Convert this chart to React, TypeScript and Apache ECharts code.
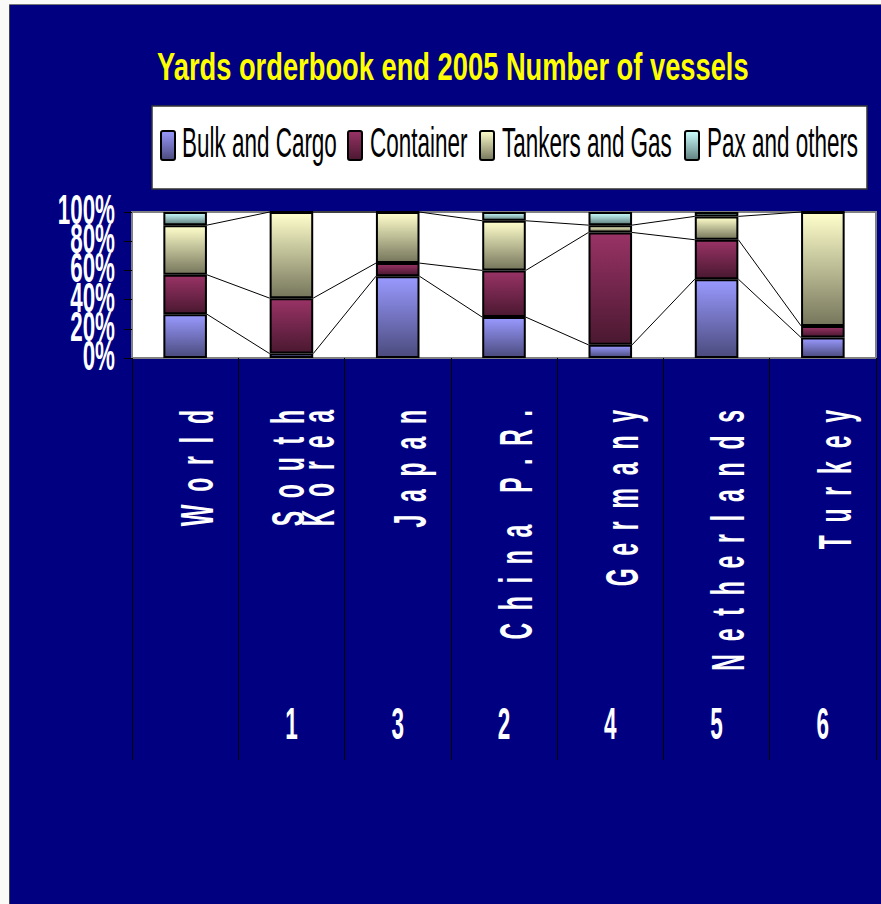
import React, { useEffect, useRef } from "react";
import * as echarts from "echarts";

const categories = ["World", "South Korea", "Japan", "China P.R.", "Germany", "Netherlands", "Turkey"];
const ranks = ["", "1", "3", "2", "4", "5", "6"];
const seriesNames = ["Bulk and Cargo", "Container", "Tankers and Gas", "Pax and others"];
const bulkAndCargo = [30, 3, 56, 28, 9, 54, 14];
const container = [27, 38, 9, 32, 77, 27, 8];
const tankersAndGas = [34, 59, 35, 34, 5, 16, 78];
const paxAndOthers = [9, 0, 0, 6, 9, 3, 0];
const yTicks = [0, 20, 40, 60, 80, 100];
const yTickLabels = ["0%", "20%", "40%", "60%", "80%", "100%"];
const titleText = "Yards orderbook end 2005 Number of vessels";

const gradientColors = [
  ["#9999FF", "#4B4B7E"],
  ["#993366", "#4A1830"],
  ["#FFFFCC", "#76765C"],
  ["#CCFFFF", "#628080"],
];

const FONT = '"Liberation Sans", Arial, Helvetica, sans-serif';
const BAR_RATIO = 0.41;

const grad = (c: string[]) =>
  new echarts.graphic.LinearGradient(0, 0, 0, 1, [
    { offset: 0, color: c[0] },
    { offset: 1, color: c[1] },
  ]);

const spaced = (s: string) => s.split("").join("  ");
const labelText = (name: string) => {
  const words = name.split(" ");
  if (words.length > 1 && words.every((w) => /^[A-Za-z]+$/.test(w))) {
    return words.map(spaced).join("\n");
  }
  return spaced(name);
};

export default function App() {
  const ref = useRef<HTMLDivElement>(null);

  useEffect(() => {
    const el = ref.current;
    if (!el) return;
    const chart = echarts.init(el, null, { renderer: "svg" });

    const values = [bulkAndCargo, container, tankersAndGas, paxAndOthers];
    const cumulative: number[][] = [];
    let running = categories.map(() => 0);
    for (let k = 0; k < 3; k++) {
      running = running.map((r, i) => r + values[k][i]);
      cumulative.push(running.slice());
    }
    const seriesLineData: number[][] = [];
    for (let k = 0; k < cumulative.length; k++) {
      for (let i = 0; i < categories.length - 1; i++) {
        seriesLineData.push([i, cumulative[k][i], cumulative[k][i + 1]]);
      }
    }

    const barSeries = values.map((v, k) => ({
      name: seriesNames[k],
      type: "bar",
      stack: "total",
      barWidth: `${BAR_RATIO * 100}%`,
      data: v,
      itemStyle: {
        color: grad(gradientColors[k]),
        borderColor: "#000",
        borderWidth: 2,
      },
      emphasis: { disabled: true },
    }));

    const legendMarkerX = [161, 348, 480, 685];
    const legendTextX = [182, 370, 502, 707];
    const legendElements: any[] = [
      {
        type: "rect",
        shape: { x: 152, y: 106, width: 715, height: 83 },
        style: { fill: "#FFFFFF", stroke: "#333333", lineWidth: 1.5 },
      },
    ];
    seriesNames.forEach((n, k) => {
      legendElements.push({
        type: "rect",
        shape: { x: legendMarkerX[k], y: 131, width: 14, height: 29, r: 2 },
        style: { fill: grad(gradientColors[k]), stroke: "#000", lineWidth: 2 },
      });
      legendElements.push({
        type: "text",
        x: legendTextX[k],
        y: 143,
        scaleX: 0.535,
        style: {
          text: n,
          fill: "#000",
          fontSize: 42,
          fontFamily: FONT,
          align: "left",
          verticalAlign: "middle",
        },
      });
    });

    const option: any = {
      animation: false,
      backgroundColor: "#000080",
      grid: {
        left: 132,
        right: 5,
        top: 212,
        bottom: 546,
        show: true,
        backgroundColor: "#FFFFFF",
        borderColor: "#808080",
        borderWidth: 2,
      },
      xAxis: {
        type: "category",
        data: categories,
        axisLine: { show: true, lineStyle: { color: "#808080", width: 2 } },
        axisTick: { show: true, interval: 0, length: 402, lineStyle: { color: "#000", width: 1 } },
        axisLabel: { show: false },
        splitLine: { show: false },
      },
      yAxis: {
        type: "value",
        min: 0,
        max: 100,
        interval: 20,
        axisLine: { show: true, lineStyle: { color: "#808080", width: 2 } },
        axisTick: { show: true, length: 8, lineStyle: { color: "#000", width: 1 } },
        axisLabel: { show: false },
        splitLine: { show: false },
      },
      graphic: [
        { type: "rect", shape: { x: 0, y: 0, width: 10, height: 904 }, style: { fill: "#FAFAF8" }, silent: true },
        { type: "rect", shape: { x: 0, y: 0, width: 881, height: 5 }, style: { fill: "#FAFAF8" }, silent: true },
        { type: "line", shape: { x1: 9.5, y1: 4.5, x2: 9.5, y2: 904 }, style: { stroke: "#444", lineWidth: 1 }, silent: true },
        { type: "line", shape: { x1: 9.5, y1: 4.5, x2: 881, y2: 4.5 }, style: { stroke: "#777", lineWidth: 1 }, silent: true },
        {
          type: "text",
          x: 157,
          y: 67,
          scaleX: 0.7,
          style: {
            text: titleText,
            fill: "#FFFF00",
            fontSize: 39,
            fontWeight: "bold",
            fontFamily: FONT,
            align: "left",
            verticalAlign: "middle",
          },
        },
        { type: "group", children: legendElements },
      ],
      series: [
        ...barSeries,
        {
          name: "series lines",
          type: "custom",
          silent: true,
          clip: false,
          data: seriesLineData,
          encode: { x: 0, y: 1 },
          renderItem: (params: any, api: any) => {
            const i = api.value(0);
            const p1 = api.coord([i, api.value(1)]);
            const p2 = api.coord([i + 1, api.value(2)]);
            const half = (api.size([1, 0])[0] * BAR_RATIO) / 2;
            return {
              type: "line",
              shape: { x1: p1[0] + half, y1: p1[1], x2: p2[0] - half, y2: p2[1] },
              style: { stroke: "#000", lineWidth: 1 },
            };
          },
          z: 3,
        },
        {
          name: "category labels",
          type: "custom",
          silent: true,
          clip: false,
          data: categories.map((c, i) => [i, 0]),
          encode: { x: 0, y: 1 },
          renderItem: (params: any, api: any) => {
            const i = api.value(0);
            const p = api.coord([i, 0]);
            return {
              type: "group",
              children: [
                {
                  type: "text",
                  x: p[0] + 12,
                  y: p[1] + 52,
                  rotation: Math.PI / 2,
                  scaleX: 0.5,
                  style: {
                    text: labelText(categories[i]),
                    fill: "#FFFFFF",
                    fontSize: 46,
                    fontWeight: "bold",
                    fontFamily: FONT,
                    align: "right",
                    verticalAlign: "middle",
                    lineHeight: 30,
                  },
                },
                {
                  type: "text",
                  x: p[0],
                  y: p[1] + 366,
                  scaleX: 0.5,
                  style: {
                    text: ranks[i],
                    fill: "#FFFFFF",
                    fontSize: 45,
                    fontWeight: "bold",
                    fontFamily: FONT,
                    align: "center",
                    verticalAlign: "middle",
                  },
                },
              ],
            };
          },
        },
        {
          name: "value labels",
          type: "custom",
          silent: true,
          clip: false,
          data: yTicks.map((v, j) => [0, v, j]),
          encode: { x: 0, y: 1 },
          renderItem: (params: any, api: any) => {
            const v = api.value(1);
            const j = api.value(2);
            const p = api.coord([0, v]);
            const left = p[0] - api.size([1, 0])[0] / 2;
            return {
              type: "text",
              x: left - 17,
              y: p[1] - 3,
              scaleX: 0.52,
              style: {
                text: yTickLabels[j],
                fill: "#FFFFFF",
                fontSize: 43,
                fontWeight: "bold",
                fontFamily: FONT,
                align: "right",
                verticalAlign: "middle",
              },
            };
          },
        },
      ],
    };

    chart.setOption(option);
    return () => chart.dispose();
  }, []);

  return (
    <div
      ref={ref}
      style={{ position: "fixed", left: 0, top: 0, width: 881, height: 904 }}
    />
  );
}
